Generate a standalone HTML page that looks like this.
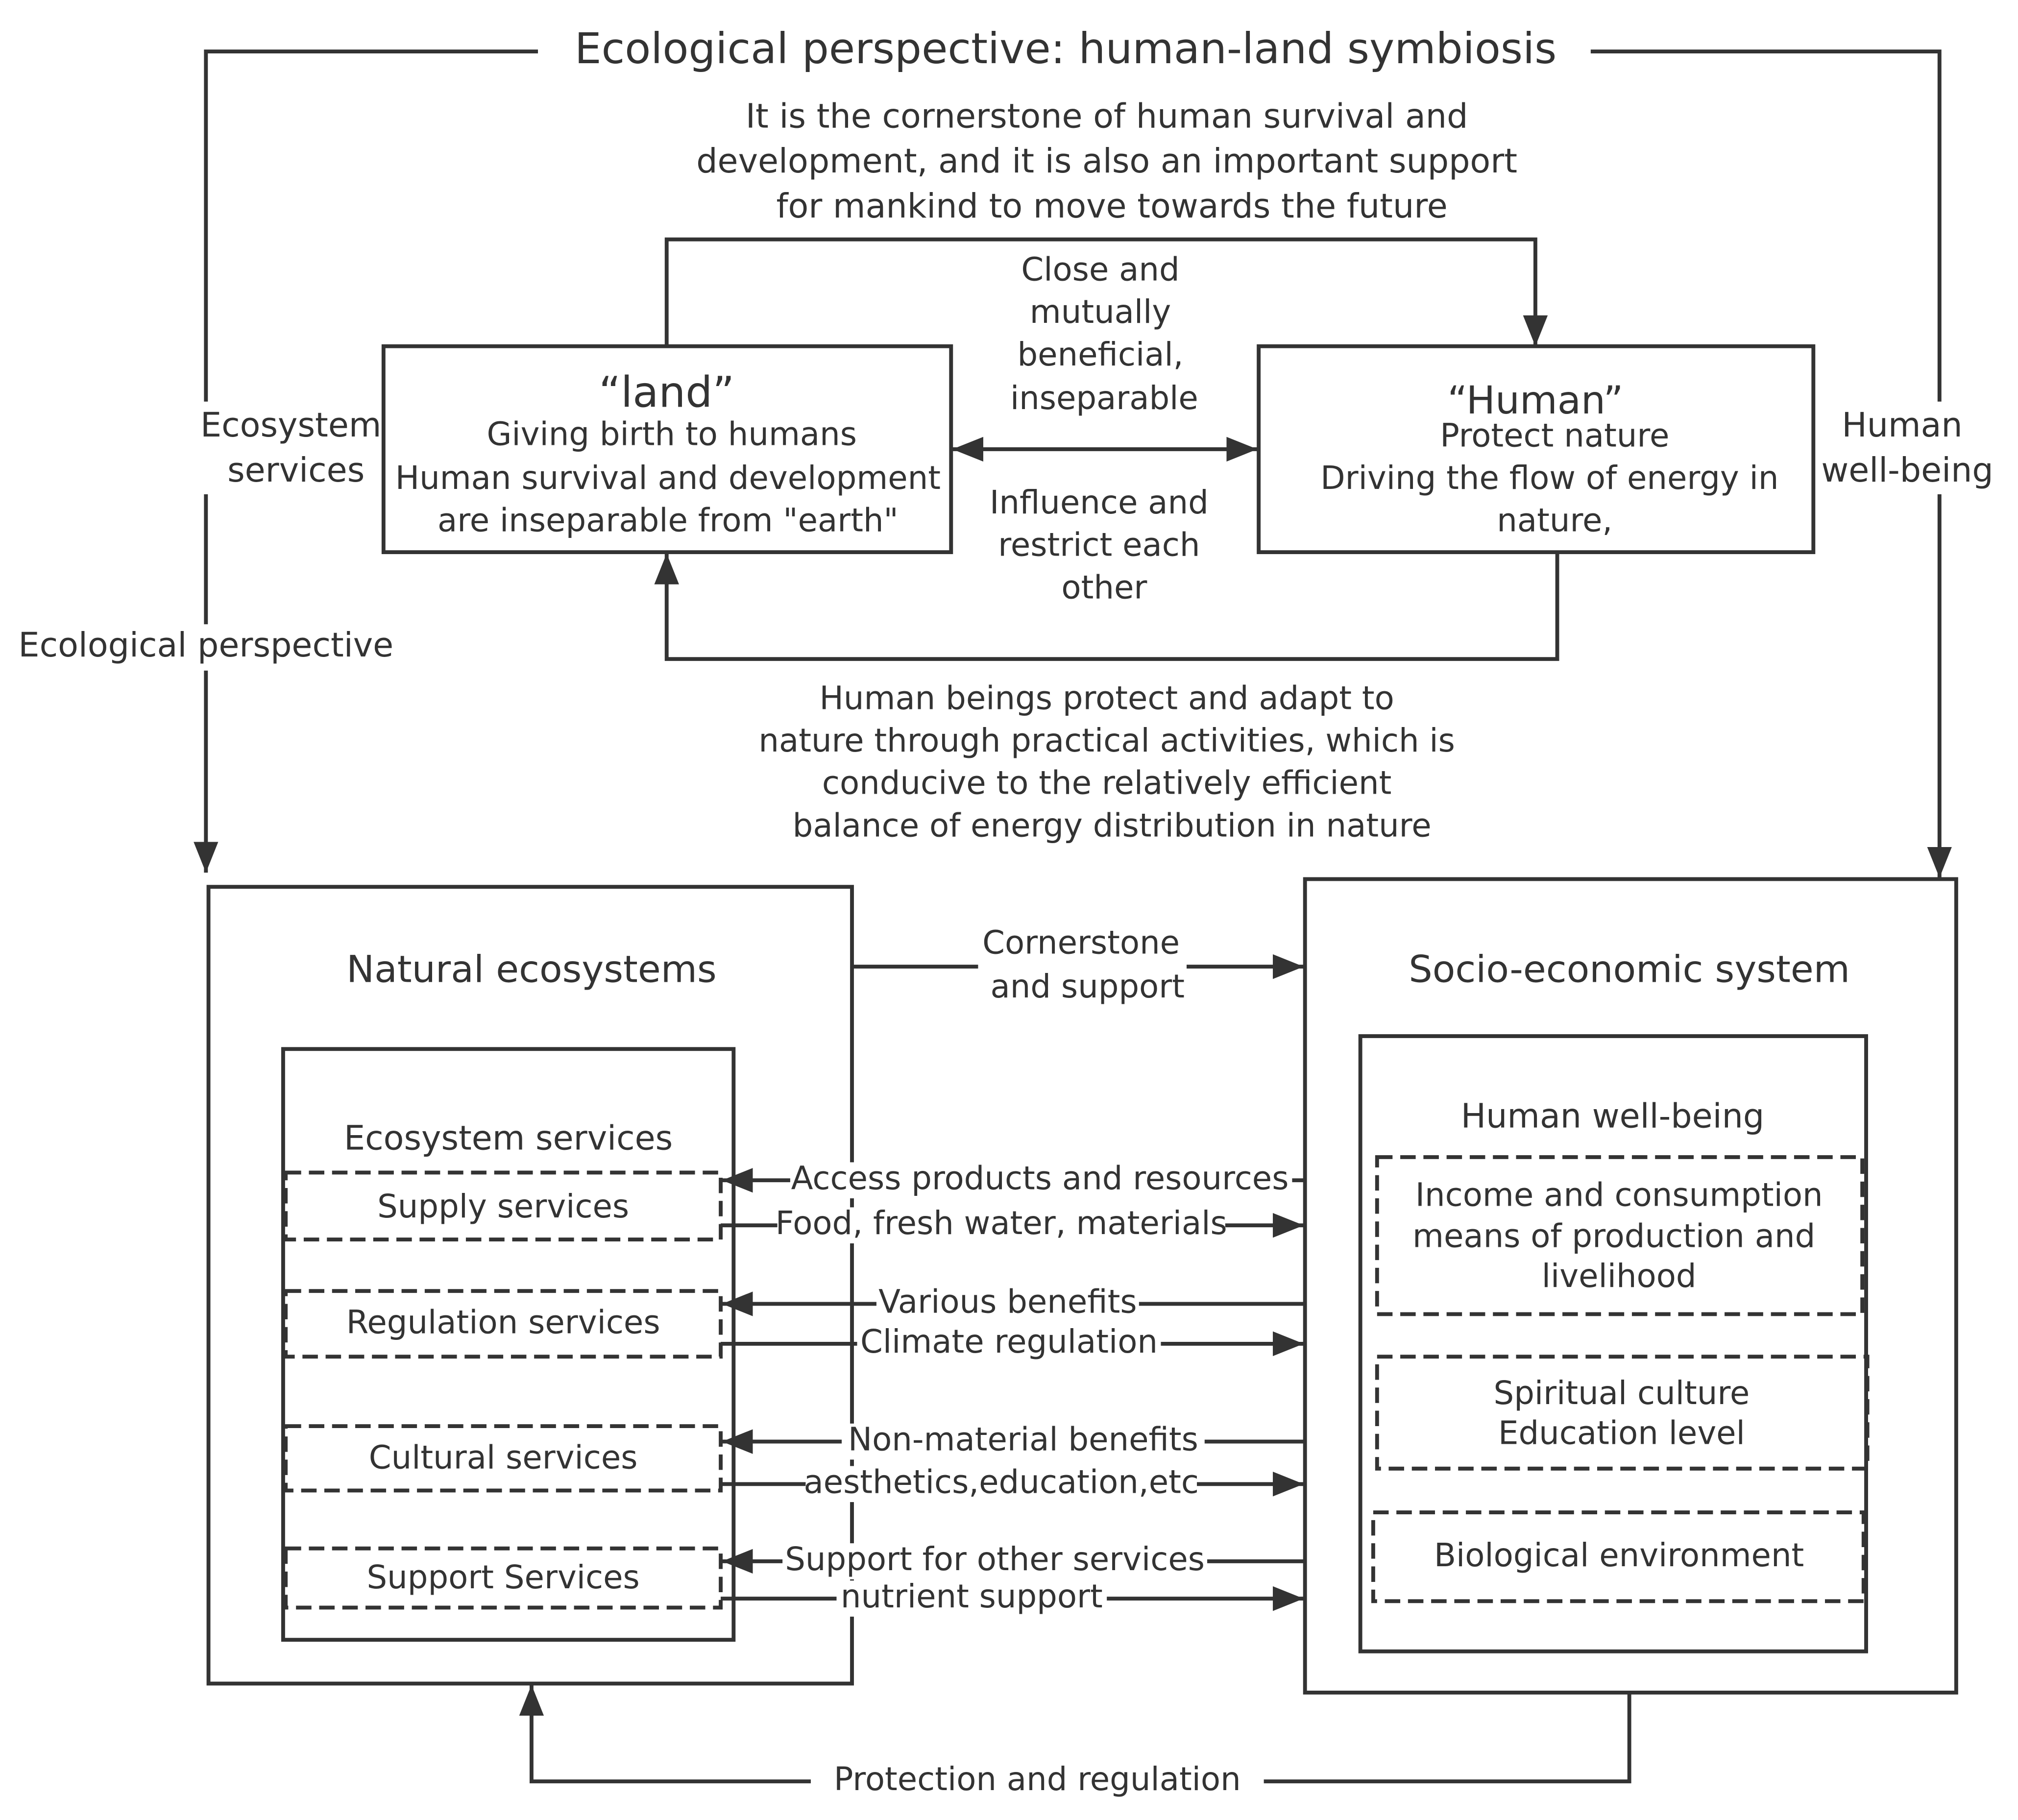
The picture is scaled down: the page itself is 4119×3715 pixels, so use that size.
<!DOCTYPE html>
<html><head><meta charset="utf-8"><style>
html,body{margin:0;padding:0;background:#fff;}
svg{display:block;}
text{font-family:"DejaVu Sans","Liberation Sans",sans-serif;fill:#333;text-anchor:middle;dominant-baseline:middle;}
</style></head><body>
<svg width="4119" height="3715" viewBox="0 0 1568 1414" preserveAspectRatio="none" xmlns="http://www.w3.org/2000/svg">
<defs>
<marker id="b" viewBox="0 0 10 10" refX="10" refY="5" markerWidth="24" markerHeight="24" markerUnits="userSpaceOnUse" orient="auto-start-reverse">
<path d="M0,1 L10,5 L0,9 z" fill="#333"/></marker>
</defs>
<g stroke="#333" stroke-width="3" fill="none">
<polyline points="418,40 160,40 160,678" marker-end="url(#b)"/>
<polyline points="1236,40 1507,40 1507,682" marker-end="url(#b)"/>
<polyline points="518,269 518,186 1193,186 1193,269" marker-end="url(#b)"/>
<polyline points="1210,429 1210,512 518,512 518,430" marker-end="url(#b)"/>
<line x1="740" y1="349" x2="977" y2="349" marker-end="url(#b)" marker-start="url(#b)"/>
<rect x="298" y="269" width="441" height="160"/>
<rect x="978" y="269" width="431" height="160"/>
<rect x="162" y="689" width="500" height="619"/>
<rect x="220" y="815" width="350" height="459"/>
<rect x="1014" y="683" width="506" height="632"/>
<rect x="1057" y="805" width="393" height="478"/>
<g stroke-dasharray="12,6">
<rect x="222" y="911" width="338" height="52"/>
<rect x="222" y="1003" width="338" height="51"/>
<rect x="222" y="1108" width="338" height="50"/>
<rect x="222" y="1203" width="338" height="46"/>
<rect x="1070" y="899" width="377" height="122"/>
<rect x="1070" y="1054" width="381" height="87"/>
<rect x="1067" y="1175" width="381" height="69"/>
</g>
<line x1="662" y1="751" x2="1013" y2="751" marker-end="url(#b)"/>
<line x1="1014" y1="917" x2="561" y2="917" marker-end="url(#b)"/>
<line x1="560" y1="952" x2="1013" y2="952" marker-end="url(#b)"/>
<line x1="1014" y1="1013" x2="561" y2="1013" marker-end="url(#b)"/>
<line x1="560" y1="1044" x2="1013" y2="1044" marker-end="url(#b)"/>
<line x1="1014" y1="1120" x2="561" y2="1120" marker-end="url(#b)"/>
<line x1="560" y1="1153" x2="1013" y2="1153" marker-end="url(#b)"/>
<line x1="1014" y1="1213" x2="561" y2="1213" marker-end="url(#b)"/>
<line x1="560" y1="1242" x2="1013" y2="1242" marker-end="url(#b)"/>
<polyline points="1266,1315 1266,1384 413,1384 413,1309" marker-end="url(#b)"/>
</g>
<g font-size="33"><text x="828" y="40">Ecological perspective: human-land symbiosis</text></g>
<rect x="152" y="312" width="144" height="72" fill="#fff"/>
<rect x="10" y="485" width="300" height="36" fill="#fff"/>
<rect x="1411" y="312" width="145" height="72" fill="#fff"/>
<g font-size="26">
<text x="226" y="332">Ecosystem</text><text x="230" y="367">services</text>
<text x="160" y="503">Ecological perspective</text>
<text x="1478" y="332">Human</text><text x="1482" y="367">well-being</text>
<text x="860" y="92">It is the cornerstone of human survival and</text>
<text x="860" y="127">development, and it is also an important support</text>
<text x="864" y="162">for mankind to move towards the future</text>
<text x="518" y="307" font-size="33">“land”</text>
<text x="522" y="339" font-size="25">Giving birth to humans</text>
<text x="519" y="373" font-size="25">Human survival and development</text>
<text x="519" y="406" font-size="25">are inseparable from "earth"</text>
<text x="1193" y="313" font-size="30">“Human”</text>
<text x="1208" y="340" font-size="25">Protect nature</text>
<text x="1204" y="373" font-size="25">Driving the flow of energy in</text>
<text x="1208" y="406" font-size="25">nature,</text>
<text x="855" y="211" font-size="25">Close and</text>
<text x="855" y="244" font-size="25">mutually</text>
<text x="855" y="277" font-size="25">beneficial,</text>
<text x="858" y="311" font-size="25">inseparable</text>
<text x="854" y="392" font-size="25">Influence and</text>
<text x="854" y="425" font-size="25">restrict each</text>
<text x="858" y="458" font-size="25">other</text>
<text x="860" y="544" font-size="25">Human beings protect and adapt to</text>
<text x="860" y="577" font-size="25">nature through practical activities, which is</text>
<text x="860" y="610" font-size="25">conducive to the relatively efficient</text>
<text x="864" y="643" font-size="25">balance of energy distribution in nature</text>
<text x="413" y="755" font-size="29">Natural ecosystems</text>
<text x="1266" y="755" font-size="29">Socio-economic system</text>
<text x="395" y="886">Ecosystem services</text>
<text x="1253" y="869">Human well-being</text>
<text x="391" y="939" font-size="25">Supply services</text>
<text x="391" y="1029" font-size="25">Regulation services</text>
<text x="391" y="1134" font-size="25">Cultural services</text>
<text x="391" y="1227" font-size="25">Support Services</text>
<text x="1258" y="930" font-size="25">Income and consumption</text>
<text x="1254" y="962" font-size="25">means of production and</text>
<text x="1258" y="993" font-size="25">livelihood</text>
<text x="1260" y="1084" font-size="25">Spiritual culture</text>
<text x="1260" y="1115" font-size="25">Education level</text>
<text x="1258" y="1210" font-size="25">Biological environment</text>
</g>
<g font-size="25">
<rect x="760" y="718" width="162" height="66" fill="#fff"/>
<text x="840" y="734">Cornerstone</text><text x="845" y="768">and support</text>
<rect x="614" y="903" width="390" height="28" fill="#fff"/><text x="808" y="917">Access products and resources</text>
<rect x="604" y="938" width="348" height="28" fill="#fff"/><text x="778" y="952">Food, fresh water, materials</text>
<rect x="681" y="999" width="204" height="28" fill="#fff"/><text x="783" y="1013">Various benefits</text>
<rect x="666" y="1030" width="236" height="28" fill="#fff"/><text x="784" y="1044">Climate regulation</text>
<rect x="654" y="1106" width="282" height="28" fill="#fff"/><text x="795" y="1120">Non-material benefits</text>
<rect x="626" y="1139" width="304" height="28" fill="#fff"/><text x="778" y="1153">aesthetics,education,etc</text>
<rect x="608" y="1199" width="330" height="28" fill="#fff"/><text x="773" y="1213">Support for other services</text>
<rect x="650" y="1228" width="210" height="28" fill="#fff"/><text x="755" y="1242">nutrient support</text>
<rect x="630" y="1368" width="352" height="32" fill="#fff"/><text x="806" y="1384">Protection and regulation</text>
</g>
</svg>
</body></html>
